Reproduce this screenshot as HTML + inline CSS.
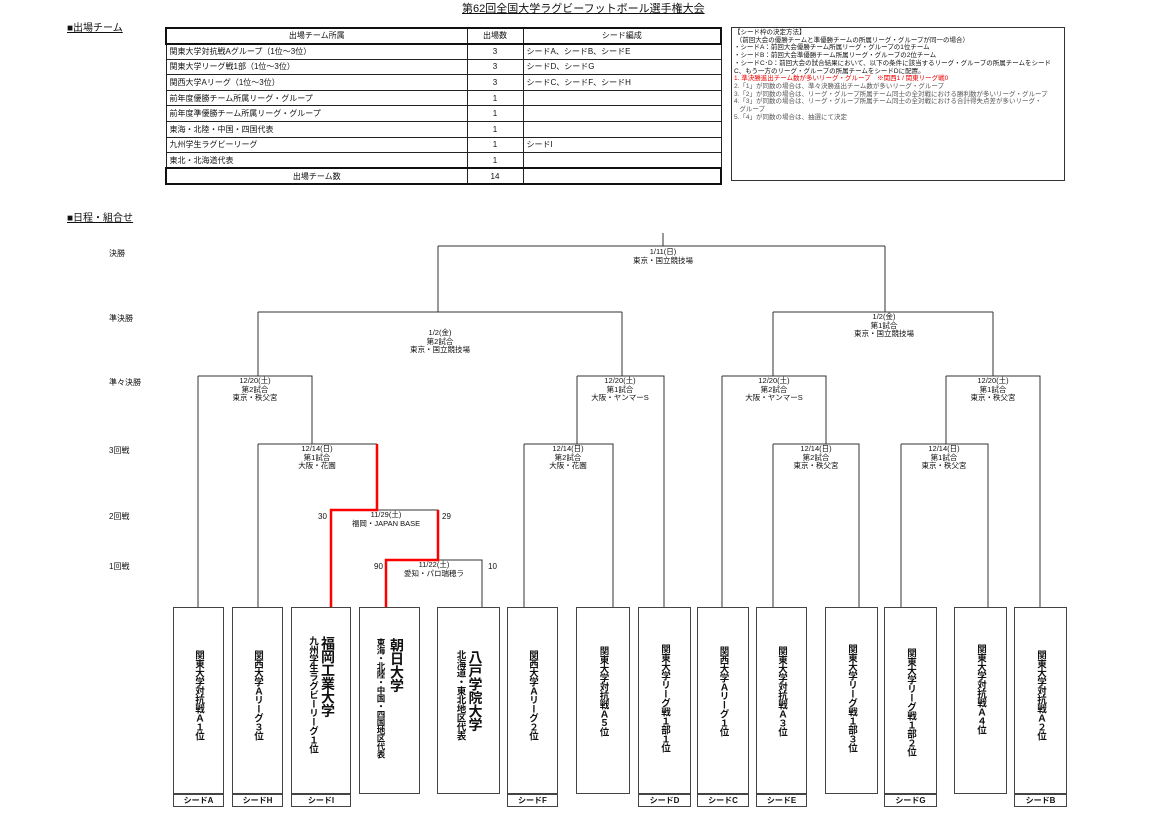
<!DOCTYPE html>
<html><head><meta charset="utf-8"><style>
*{margin:0;padding:0;box-sizing:border-box}
body{width:1170px;height:814px;background:#fff;position:relative;overflow:hidden;font-family:"Liberation Sans","Noto Sans CJK JP",sans-serif;color:#111}
.a{position:absolute;white-space:nowrap}
.c{position:absolute;white-space:nowrap;text-align:center;font-size:7.5px;line-height:8.5px;transform:translateX(-50%)}
table{border-collapse:collapse;position:absolute;left:165px;top:27px;width:557px;font-size:8px}
td{border:1px solid #222;height:15.6px;padding:0 3px}
.tb{border:2px solid #111}
.box{position:absolute;top:607px;height:187px;border:1px solid #444;}
.seed{position:absolute;top:794px;height:13px;border:1px solid #444;font-size:8px;font-weight:bold;text-align:center;line-height:11px}
.v{position:absolute;left:0;right:0;top:36px;display:flex;justify-content:center}
.v div{writing-mode:vertical-rl;text-orientation:upright;font-weight:bold;font-size:9.5px;line-height:13px;letter-spacing:-0.5px}
.big{font-size:14px!important;line-height:17px!important}
.sm{font-size:8.5px!important}
</style></head><body>
<div class="a" style="left:462px;top:0px;font-size:11px;text-decoration:underline">第62回全国大学ラグビーフットボール選手権大会</div>
<div class="a" style="left:67px;top:19px;font-size:10px;text-decoration:underline">■出場チーム</div>
<table>
<tr class="tb"><td style="width:301px;text-align:center">出場チーム所属</td><td style="width:56px;text-align:center">出場数</td><td style="text-align:center">シード編成</td></tr>
<tr><td>関東大学対抗戦Aグループ（1位～3位）</td><td style="text-align:center">3</td><td>シードA、シードB、シードE</td></tr>
<tr><td>関東大学リーグ戦1部（1位～3位）</td><td style="text-align:center">3</td><td>シードD、シードG</td></tr>
<tr><td>関西大学Aリーグ（1位～3位）</td><td style="text-align:center">3</td><td>シードC、シードF、シードH</td></tr>
<tr><td>前年度優勝チーム所属リーグ・グループ</td><td style="text-align:center">1</td><td></td></tr>
<tr><td>前年度準優勝チーム所属リーグ・グループ</td><td style="text-align:center">1</td><td></td></tr>
<tr><td>東海・北陸・中国・四国代表</td><td style="text-align:center">1</td><td></td></tr>
<tr><td>九州学生ラグビーリーグ</td><td style="text-align:center">1</td><td>シードI</td></tr>
<tr><td>東北・北海道代表</td><td style="text-align:center">1</td><td></td></tr>
<tr class="tb"><td style="text-align:center">出場チーム数</td><td style="text-align:center">14</td><td></td></tr>
</table>
<div class="a" style="left:731px;top:27px;width:334px;height:154px;border:1px solid #333;font-size:6.5px;line-height:7.7px;padding:1px 2px;white-space:normal">
【シード枠の決定方法】<br>&nbsp;（前回大会の優勝チームと準優勝チームの所属リーグ・グループが同一の場合）<br>・シードA：前回大会優勝チーム所属リーグ・グループの1位チーム<br>・シードB：前回大会準優勝チーム所属リーグ・グループの2位チーム<br>・シードC･D：前回大会の試合結果において、以下の条件に該当するリーグ・グループの所属チームをシードC、もう一方のリーグ・グループの所属チームをシードDに配置。<br><span style="color:#e00">1. 準決勝進出チーム数が多いリーグ・グループ　※関西1 / 関東リーグ戦0</span><br><span style="color:#555">2.「1」が同数の場合は、準々決勝進出チーム数が多いリーグ・グループ<br>3.「2」が同数の場合は、リーグ・グループ所属チーム同士の全対戦における勝利数が多いリーグ・グループ<br>4.「3」が同数の場合は、リーグ・グループ所属チーム同士の全対戦における合計得失点差が多いリーグ・<br>&nbsp;&nbsp;&nbsp;グループ<br>5.「4」が同数の場合は、抽選にて決定</span></div>

<div class="a" style="left:67px;top:209px;font-size:10px;text-decoration:underline">■日程・組合せ</div>
<div class="a" style="left:109px;top:248px;font-size:8px">決勝</div>
<div class="a" style="left:109px;top:313px;font-size:8px">準決勝</div>
<div class="a" style="left:109px;top:377px;font-size:8px">準々決勝</div>
<div class="a" style="left:109px;top:445px;font-size:8px">3回戦</div>
<div class="a" style="left:109px;top:511px;font-size:8px">2回戦</div>
<div class="a" style="left:109px;top:561px;font-size:8px">1回戦</div>

<svg width="1170" height="814" style="position:absolute;left:0;top:0" fill="none">
<g stroke="#333" stroke-width="1">
<path d="M663 233V246M438 246H885M438 246V312M885 246V312"/>
<path d="M258 312H622M258 312V376M622 312V376M773 312H993M773 312V376M993 312V376"/>
<path d="M198 376H312V444M198 376V607M577 376H664V607M577 376V444M722 376H826V444M722 376V607M946 376H1040V607M946 376V444"/>
<path d="M258 444H377M258 444V607M524 444H613V607M524 444V607M773 444H859V607M773 444V607M901 444H988V607M901 444V607"/>
<path d="M377 510H438V560M438 560H482V607"/>
</g>
<g stroke="#f00" stroke-width="2.5">
<path d="M377 444V510H331V607M438 510V560H386V607"/>
</g>
</svg>

<div class="c" style="left:663px;top:248px">1/11(日)<br>東京・国立競技場</div>
<div class="c" style="left:440px;top:329px">1/2(金)<br>第2試合<br>東京・国立競技場</div>
<div class="c" style="left:884px;top:313px">1/2(金)<br>第1試合<br>東京・国立競技場</div>
<div class="c" style="left:255px;top:377px">12/20(土)<br>第2試合<br>東京・秩父宮</div>
<div class="c" style="left:620px;top:377px">12/20(土)<br>第1試合<br>大阪・ヤンマーS</div>
<div class="c" style="left:774px;top:377px">12/20(土)<br>第2試合<br>大阪・ヤンマーS</div>
<div class="c" style="left:993px;top:377px">12/20(土)<br>第1試合<br>東京・秩父宮</div>
<div class="c" style="left:317px;top:445px">12/14(日)<br>第1試合<br>大阪・花園</div>
<div class="c" style="left:568px;top:445px">12/14(日)<br>第2試合<br>大阪・花園</div>
<div class="c" style="left:816px;top:445px">12/14(日)<br>第2試合<br>東京・秩父宮</div>
<div class="c" style="left:944px;top:445px">12/14(日)<br>第1試合<br>東京・秩父宮</div>
<div class="c" style="left:386px;top:511px">11/29(土)<br>福岡・JAPAN BASE</div>
<div class="c" style="left:434px;top:561px">11/22(土)<br>愛知・パロ瑞穂ラ</div>
<div class="a" style="left:318px;top:512px;font-size:8px">30</div>
<div class="a" style="left:442px;top:512px;font-size:8px">29</div>
<div class="a" style="left:374px;top:562px;font-size:8px">90</div>
<div class="a" style="left:488px;top:562px;font-size:8px">10</div>

<div class="box" style="left:173px;width:51px"><div class="v" style="top:42px"><div>関東大学対抗戦Ａ１位</div></div></div>
<div class="seed" style="left:173px;width:51px">シードA</div>
<div class="box" style="left:232px;width:51px"><div class="v" style="top:42px"><div>関西大学Ａリーグ３位</div></div></div>
<div class="seed" style="left:232px;width:51px">シードH</div>
<div class="box" style="left:291px;width:60px"><div class="v" style="top:28px"><div><span class="big">福岡工業大学</span><br>九州学生ラグビーリーグ１位</div></div></div>
<div class="seed" style="left:291px;width:60px">シードI</div>
<div class="box" style="left:359px;width:61px"><div class="v" style="top:30px"><div><span class="big">朝日大学</span><br><span class="sm">東海・北陸・中国・四国地区代表</span></div></div></div>
<div class="box" style="left:437px;width:63px"><div class="v" style="top:42px"><div><span class="big">八戸学院大学</span><br>北海道・東北地区代表</div></div></div>
<div class="box" style="left:507px;width:51px"><div class="v" style="top:42px"><div>関西大学Ａリーグ２位</div></div></div>
<div class="seed" style="left:507px;width:51px">シードF</div>
<div class="box" style="left:576px;width:54px"><div class="v" style="top:38px"><div>関東大学対抗戦Ａ５位</div></div></div>
<div class="box" style="left:638px;width:53px"><div class="v" style="top:36px"><div>関東大学リーグ戦１部１位</div></div></div>
<div class="seed" style="left:638px;width:53px">シードD</div>
<div class="box" style="left:697px;width:52px"><div class="v" style="top:38px"><div>関西大学Ａリーグ１位</div></div></div>
<div class="seed" style="left:697px;width:52px">シードC</div>
<div class="box" style="left:756px;width:51px"><div class="v" style="top:38px"><div>関東大学対抗戦Ａ３位</div></div></div>
<div class="seed" style="left:756px;width:51px">シードE</div>
<div class="box" style="left:825px;width:53px"><div class="v" style="top:36px"><div>関東大学リーグ戦１部３位</div></div></div>
<div class="box" style="left:884px;width:53px"><div class="v" style="top:40px"><div>関東大学リーグ戦１部２位</div></div></div>
<div class="seed" style="left:884px;width:53px">シードG</div>
<div class="box" style="left:954px;width:53px"><div class="v" style="top:36px"><div>関東大学対抗戦Ａ４位</div></div></div>
<div class="box" style="left:1014px;width:53px"><div class="v" style="top:42px"><div>関東大学対抗戦Ａ２位</div></div></div>
<div class="seed" style="left:1014px;width:53px">シードB</div>
</body></html>
